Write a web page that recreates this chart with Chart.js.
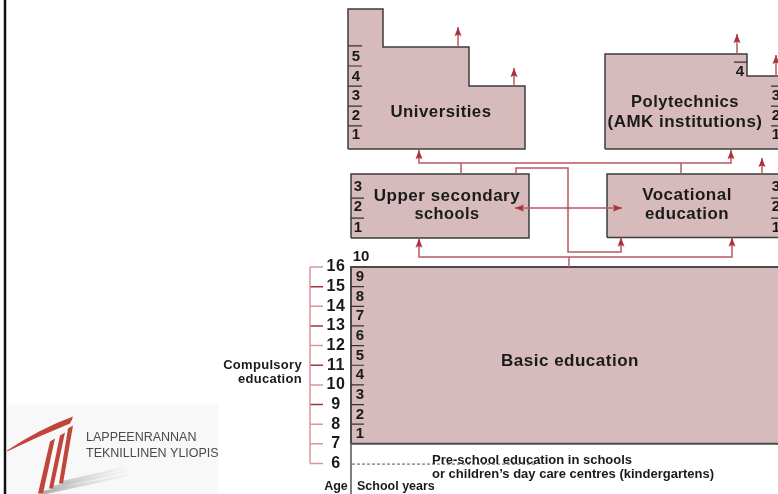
<!DOCTYPE html>
<html>
<head>
<meta charset="utf-8">
<script src="https://cdn.jsdelivr.net/npm/chart.js@4/dist/chart.umd.min.js"></script>
<style>
html, body { margin: 0; padding: 0; background: #fff; overflow: hidden; }
canvas { display: block; }
</style>
</head>
<body>
<canvas id="grafico" width="778" height="494"></canvas>
<script>
// y axis = age in years, x axis = horizontal layout units
const ages = [6, 7, 8, 9, 10, 11, 12, 13, 14, 15, 16];
const darkAgeTicks = [9, 11, 13, 15];
const basicYears = ['1', '2', '3', '4', '5', '6', '7', '8', '9'];
const basicStartAge = 7;
const uniYears = ['1', '2', '3', '4', '5'];
const uniYearAges = [22.7, 23.68, 24.7, 25.67, 26.69];
const uniYearLines = [23.18, 24.19, 25.21, 26.23, 27.25];
const polyYears = ['1', '2', '3'];
const secYears = ['1', '2', '3'];
const secYearAges = [17.99, 19.05, 20.07];
const secYearLines = [18.49, 19.51];

const boxTitles = ['Universities', 'Polytechnics', '(AMK institutions)', 'Upper secondary', 'schools',
                   'Vocational', 'education', 'Basic education'];

// shapes of the boxes (x, age)
const universities = [[348, 22.0], [348, 29.13], [383, 29.13], [383, 27.2], [469, 27.2], [469, 25.21], [525, 25.21], [525, 22.0]];
const polytechnics = [[605, 22.0], [605, 26.84], [747, 26.84], [747, 25.72], [790, 25.72], [790, 22.0]];
const upperSecondary = [[351, 17.48], [351, 20.73], [529, 20.73], [529, 17.48]];
const vocational = [[607, 17.5], [607, 20.73], [790, 20.73], [790, 17.5]];
const basic = [[351, 7], [351, 16], [790, 16], [790, 7]];

const links = [
  [[419, 21.95], [419, 21.29], [731, 21.29], [731, 21.95]],
  [[461, 20.73], [461, 21.29]],
  [[681, 20.73], [681, 21.29]],
  [[516, 20.73], [516, 21.04], [568, 21.04], [568, 16.76], [621, 16.76], [621, 17.5]],
  [[569, 16], [569, 16.51]],
  [[419, 17.45], [419, 16.51], [732, 16.51], [732, 17.5]],
  [[515, 19], [622, 19]],
  [[762, 20.73], [762, 21.55]],
  [[458, 27.2], [458, 28.21]],
  [[514, 25.21], [514, 26.13]],
  [[737, 26.84], [737, 27.86]],
  [[776, 25.72], [776, 26.79]]
];
// arrow tips: x, age, direction (0 up, 90 right, -90 left)
const arrowTips = [[419, 21.95, 0], [731, 21.95, 0], [621, 17.5, 0], [419, 17.45, 0], [732, 17.5, 0],
                   [515, 19, -90], [622, 19, 90], [762, 21.55, 0], [458, 28.21, 0], [514, 26.13, 0],
                   [737, 27.86, 0], [776, 26.79, 0]];

const boxFill = '#d7bbbc';
const boxEdge = '#3c3c3c';
const linkColor = '#b95a62';
const arrowColor = '#a8323c';
const ink = '#1a1a1a';

const poly = pts => pts.concat([pts[0]]).map(([x, y]) => ({x, y}));
const path = pts => pts.map(([x, y]) => ({x, y}));
const segs = list => list.flatMap(([x1, y1, x2, y2]) => [{x: x1, y: y1}, {x: x2, y: y2}, {x: x2, y: null}]);

function arrowHead() {
  const c = document.createElement('canvas');
  c.width = 8; c.height = 22;
  const g = c.getContext('2d');
  g.fillStyle = arrowColor;
  g.beginPath();
  g.moveTo(4, 11); g.lineTo(7.5, 20); g.lineTo(4, 18.5); g.lineTo(0.5, 20);
  g.closePath(); g.fill();
  return c;
}

function box(pts) {
  return {data: poly(pts), fill: 'shape', backgroundColor: boxFill, borderColor: boxEdge,
          borderWidth: 1.5, borderJoinStyle: 'miter', order: 10};
}
function lines(data, color, width, order) {
  return {data, borderColor: color, borderWidth: width, fill: false, order: order};
}

const datasets = [
  box(universities), box(polytechnics), box(upperSecondary), box(vocational),
  Object.assign(box(basic), {borderWidth: 2, borderColor: '#4a4a4a'}),
  ...links.map(l => lines(path(l), linkColor, 1.5, 5)),
  lines(segs(uniYearLines.map(a => [348, a, 362, a])), '#333', 1.2, 4),
  lines(segs([26.43].map(a => [734, a, 747, a]).concat(uniYearLines.slice(0, 3).map(a => [771, a, 780, a]))), '#333', 1.2, 4),
  lines(segs(secYearLines.map(a => [351, a, 364, a]).concat(secYearLines.map(a => [771, a, 780, a]))), '#333', 1.2, 4),
  lines(segs(basicYears.slice(1).map((_, i) => [351, basicStartAge + i + 1, 364, basicStartAge + i + 1])), '#333', 1.2, 4),
  lines(path([[310, 6], [310, 16]]), '#d9959a', 1.5, 4),
  lines(segs(ages.filter(a => !darkAgeTicks.includes(a)).map(a => [310, a, 323, a])), '#d9959a', 1.5, 4),
  lines(segs(darkAgeTicks.map(a => [310, a, 323, a])), '#a8323c', 1.5, 4),
  lines(path([[351, 7], [351, 4.4]]), '#555', 1.5, 4),
  Object.assign(lines(path([[352, 5.97], [535, 5.97]]), '#555', 1, 4), {borderDash: [3, 2]}),
  lines(path([[5, 4.4], [5, 29.6]]), '#111', 2.5, 4),
  {data: arrowTips.map(([x, y]) => ({x, y})), showLine: false, pointStyle: arrowHead(),
   pointRadius: 4, pointRotation: arrowTips.map(t => t[2]), order: 1},
  {data: [{x: 568, y: 19}], showLine: false, pointStyle: 'circle', pointRadius: 1.6,
   backgroundColor: linkColor, borderWidth: 0, order: 1}
];

const titleFont = 'bold 17px "Liberation Sans", Arial, sans-serif';
const numFont = 'bold 15px "Liberation Sans", Arial, sans-serif';
const texts = [];
const titlePos = [[441, 23.89, 101], [685, 24.40, 108], [685, 23.38, 155], [447, 19.61, 149], [447, 18.70, 65],
                  [687, 19.66, 90], [687, 18.70, 84], [570, 11.22, 139]];
boxTitles.forEach((t, i) => texts.push({text: t, x: titlePos[i][0], y: titlePos[i][1], w: titlePos[i][2], font: titleFont, sp: '0.5px'}));
uniYears.forEach((t, i) => texts.push({text: t, x: 356, y: uniYearAges[i], font: numFont}));
polyYears.forEach((t, i) => texts.push({text: t, x: 776, y: uniYearAges[i], font: numFont}));
texts.push({text: '4', x: 740, y: 25.92, font: numFont});
secYears.forEach((t, i) => {
  texts.push({text: t, x: 358, y: secYearAges[i], font: numFont});
  texts.push({text: t, x: 776, y: secYearAges[i], font: numFont});
});
basicYears.forEach((t, i) => texts.push({text: t, x: 360, y: basicStartAge + i + 0.5, font: numFont}));
texts.push({text: '10', x: 361, y: 16.5, font: numFont});
ages.forEach(a => texts.push({text: String(a), x: 336, y: a, font: 'bold 16px "Liberation Sans", Arial, sans-serif', sp: '0.5px'}));
texts.push({text: 'Compulsory', x: 302, y: 11.01, align: 'right', font: 'bold 13px "Liberation Sans", Arial, sans-serif', sp: '0.3px'});
texts.push({text: 'education', x: 302, y: 10.30, align: 'right', font: 'bold 13px "Liberation Sans", Arial, sans-serif', sp: '0.3px'});
texts.push({text: 'Age', x: 336, y: 4.85, font: 'bold 12.5px "Liberation Sans", Arial, sans-serif'});
texts.push({text: 'School years', x: 357, y: 4.85, align: 'left', font: 'bold 12.5px "Liberation Sans", Arial, sans-serif'});
texts.push({text: 'Pre-school education in schools', x: 432, y: 6.14, align: 'left', font: 'bold 13px "Liberation Sans", Arial, sans-serif'});
texts.push({text: 'or children\u2019s day care centres (kindergartens)', x: 432, y: 5.45, align: 'left', font: 'bold 13px "Liberation Sans", Arial, sans-serif'});

// logo anchored through the scales, drawn in local pixels
const logoAt = [0, 8.9];
function drawLogo(chart) {
  const {ctx, scales: {x, y}} = chart;
  const ox = x.getPixelForValue(logoAt[0]), oy = y.getPixelForValue(logoAt[1]);
  ctx.save();
  ctx.translate(ox, oy);
  ctx.fillStyle = '#f8f8f8';
  ctx.fillRect(7, -2, 211, 92);
  const shape = (pts, fill) => {
    ctx.fillStyle = fill; ctx.beginPath();
    pts.forEach(([px, py], i) => i ? ctx.lineTo(px, py) : ctx.moveTo(px, py));
    ctx.closePath(); ctx.fill();
  };
  const gr = ctx.createLinearGradient(40, 0, 135, 0);
  gr.addColorStop(0, 'rgba(150,150,150,0.8)'); gr.addColorStop(1, 'rgba(200,200,200,0)');
  shape([[40, 85], [130, 67], [132, 69], [44, 88]], gr);
  shape([[50, 80], [128, 63], [130, 65], [53, 83]], gr);
  shape([[60, 75], [125, 60], [127, 62], [63, 78]], gr);
  ctx.fillStyle = '#c0453a';
  ctx.beginPath();
  ctx.moveTo(7, 44);
  ctx.quadraticCurveTo(40, 22, 73, 10);
  ctx.quadraticCurveTo(72, 14, 70, 17);
  ctx.quadraticCurveTo(38, 30, 7, 45);
  ctx.closePath(); ctx.fill();
  shape([[50, 35], [55, 32], [43, 87], [38, 87]], '#c0453a');
  shape([[60, 29], [65, 26], [53, 82], [49, 82]], '#c0453a');
  shape([[68, 22], [73, 19], [63, 77], [59, 77]], '#c0453a');
  ctx.beginPath(); ctx.rect(0, -10, 218, 100); ctx.clip();
  ctx.fillStyle = '#4a4a4a';
  ctx.font = '12.5px "Liberation Sans", Arial, sans-serif';
  ctx.textBaseline = 'middle';
  ctx.fillText('LAPPEENRANNAN', 86, 31);
  ctx.fillText('TEKNILLINEN YLIOPISTO', 86, 47);
  ctx.restore();
}

const textPlugin = {
  id: 'diagramTexts',
  beforeDatasetsDraw(chart) { drawLogo(chart); },
  afterDatasetsDraw(chart) {
    const {ctx, scales: {x, y}} = chart;
    ctx.save();
    ctx.textBaseline = 'middle';
    for (const t of texts) {
      ctx.font = t.font;
      ctx.fillStyle = t.color || ink;
      ctx.textAlign = t.align || 'center';
      ctx.letterSpacing = t.sp || '0px';
      const px = x.getPixelForValue(t.x), py = y.getPixelForValue(t.y);
      if (t.w) ctx.fillText(t.text, px, py, t.w); else ctx.fillText(t.text, px, py);
    }
    ctx.restore();
  }
};

new Chart(document.getElementById('grafico').getContext('2d'), {
  type: 'line',
  data: {datasets},
  options: {
    responsive: false,
    animation: false,
    events: [],
    layout: {padding: 0, autoPadding: false},
    elements: {point: {radius: 0}, line: {tension: 0, borderCapStyle: 'butt'}},
    spanGaps: false,
    scales: {
      x: {type: 'linear', min: 0, max: 778, display: false},
      y: {type: 'linear', min: 4.448, max: 29.588, display: false}
    },
    plugins: {legend: {display: false}, tooltip: {enabled: false}}
  },
  plugins: [textPlugin]
});
</script>
</body>
</html>
